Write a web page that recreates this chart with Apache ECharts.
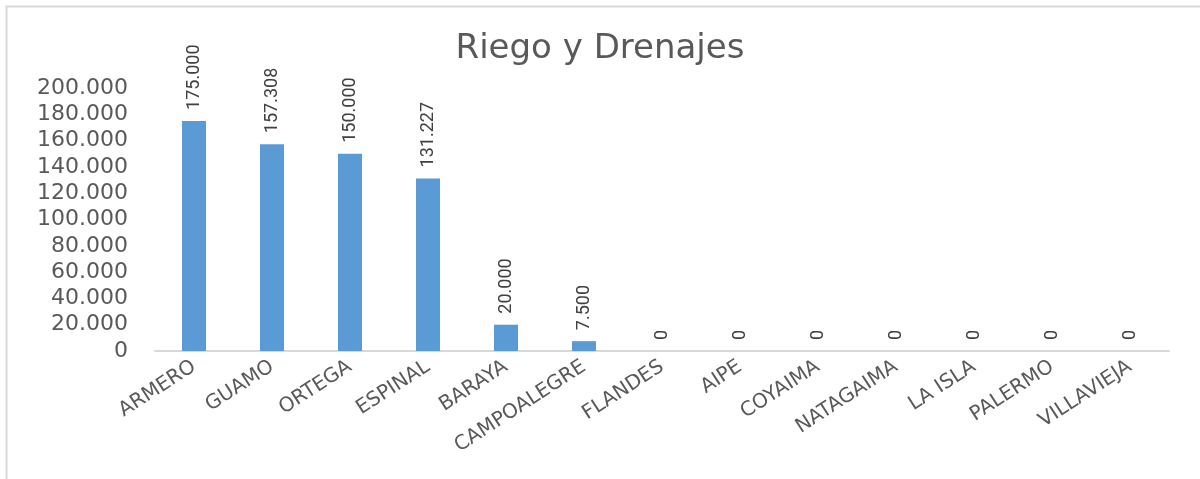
<!DOCTYPE html>
<html>
<head>
<meta charset="utf-8">
<script src="https://cdn.jsdelivr.net/npm/echarts@6/dist/echarts.min.js"></script>
<style>
  html, body { margin: 0; padding: 0; background: #fff; }
  #chart { width: 1200px; height: 479px; }
</style>
</head>
<body>
<div id="chart"></div>
<script>
// municipios y valores
const municipios = ['ARMERO', 'GUAMO', 'ORTEGA', 'ESPINAL', 'BARAYA', 'CAMPOALEGRE', 'FLANDES',
  'AIPE', 'COYAIMA', 'NATAGAIMA', 'LA ISLA', 'PALERMO', 'VILLAVIEJA'];
const valores = [175000, 157308, 150000, 131227, 20000, 7500, 0, 0, 0, 0, 0, 0, 0];
const yMax = 200000;
const yPaso = 20000;

function miles(v) {
  // separador de miles con punto
  return String(Math.round(v)).replace(/\B(?=(\d{3})+(?!\d))/g, '.');
}

const chart = echarts.init(document.getElementById('chart'));
const option = {
  backgroundColor: '#fff',
  animation: false,
  title: {
    text: 'Riego y Drenajes',
    left: 'center',
    top: 27,
    textStyle: { fontFamily: 'DejaVu Sans', fontSize: 34, fontWeight: 'normal', color: '#595959' }
  },
  graphic: [{
    type: 'rect',
    shape: { x: 6.5, y: 6.5, width: 1300, height: 600 },
    style: { fill: null, stroke: '#d9d9d9', lineWidth: 2 },
    silent: true
  }],
  grid: { left: 155, right: 31, top: 88, bottom: 128 },
  xAxis: {
    type: 'category',
    data: municipios,
    axisLine: { lineStyle: { color: '#d9d9d9', width: 2 } },
    axisTick: { show: false },
    axisLabel: {
      rotate: 33,
      interval: 0,
      margin: 14,
      color: '#595959',
      fontFamily: 'DejaVu Sans',
      fontSize: 20
    }
  },
  yAxis: {
    type: 'value',
    min: 0,
    max: yMax,
    interval: yPaso,
    splitLine: { show: false },
    axisLine: { show: false },
    axisTick: { show: false },
    axisLabel: {
      margin: 27,
      color: '#595959',
      fontFamily: 'DejaVu Sans',
      fontSize: 22,
      formatter: miles
    }
  },
  series: [{
    type: 'bar',
    data: valores,
    barWidth: 24,
    itemStyle: { color: '#5b9bd5' },
    label: {
      show: true,
      position: 'top',
      rotate: 90,
      align: 'left',
      verticalAlign: 'middle',
      distance: 11,
      color: '#404040',
      fontFamily: 'Roboto',
      fontSize: 18,
      formatter: p => miles(p.value)
    }
  }]
};
chart.setOption(option);
</script>
</body>
</html>
